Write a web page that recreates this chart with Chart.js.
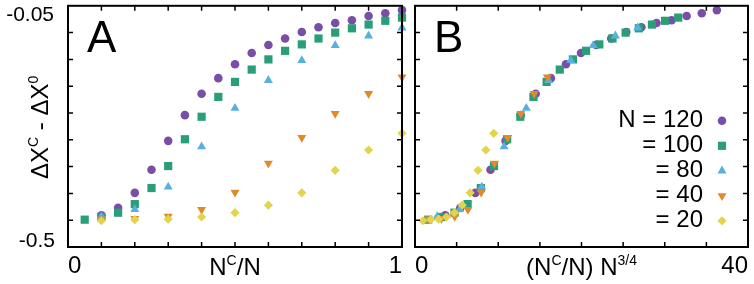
<!DOCTYPE html>
<html lang="en">
<head>
    <meta charset="UTF-8">
    <title>Delta X scaling</title>
    <style>
        body {
            margin: 0;
            background: #ffffff;
            width: 754px;
            height: 284px;
            overflow: hidden;
            position: relative;
        }
        canvas {
            position: absolute;
            top: 0;
        }
        #chartA { left: 0; }
        #chartB { left: 405px; }
    </style>
</head>
<body>
    <canvas id="chartA" width="410" height="284"></canvas>
    <canvas id="chartB" width="349" height="284"></canvas>

    <script src="https://cdn.jsdelivr.net/npm/chart.js"></script>

    <script>
        // N^C/N values for each system size (panel A x)
        const nc120 = [0.10, 0.15, 0.20, 0.25, 0.30, 0.35, 0.40, 0.45, 0.50, 0.55, 0.60, 0.65, 0.70, 0.75, 0.80, 0.85, 0.90, 0.95, 1.00];
        const nc100 = [0.05, 0.10, 0.15, 0.20, 0.25, 0.30, 0.35, 0.40, 0.45, 0.50, 0.55, 0.60, 0.65, 0.70, 0.75, 0.80, 0.85, 0.90, 0.95, 1.00];
        const nc80 = [0.1, 0.2, 0.3, 0.4, 0.5, 0.6, 0.7, 0.8, 0.9, 1.0];
        const nc40 = [0.1, 0.2, 0.3, 0.4, 0.5, 0.6, 0.7, 0.8, 0.9, 1.0];
        const nc20 = [0.1, 0.2, 0.3, 0.4, 0.5, 0.6, 0.7, 0.8, 0.9, 1.0];

        // (N^C/N) N^3/4 values (panel B x)
        const sc120 = [3.63, 5.44, 7.25, 9.07, 10.88, 12.69, 14.50, 16.32, 18.13, 19.94, 21.76, 23.57, 25.38, 27.19, 29.01, 30.82, 32.63, 34.45, 36.26];
        const sc100 = [1.58, 3.16, 4.74, 6.32, 7.91, 9.49, 11.07, 12.65, 14.23, 15.81, 17.39, 18.97, 20.55, 22.14, 23.72, 25.30, 26.88, 28.46, 30.04, 31.62];
        const sc80 = [2.67, 5.35, 8.02, 10.70, 13.37, 16.05, 18.72, 21.40, 24.07, 26.75];
        const sc40 = [1.59, 3.18, 4.77, 6.36, 7.95, 9.54, 11.13, 12.72, 14.31, 15.91];
        const sc20 = [0.95, 1.89, 2.84, 3.78, 4.73, 5.67, 6.62, 7.57, 8.51, 9.46];

        // Delta X^C - Delta X^0 (same in both panels)
        const dx120 = [-0.441, -0.427, -0.399, -0.356, -0.302, -0.254, -0.214, -0.185, -0.159, -0.138, -0.123, -0.111, -0.099, -0.090, -0.082, -0.077, -0.069, -0.064, -0.058];
        const dx100 = [-0.449, -0.444, -0.436, -0.420, -0.390, -0.349, -0.299, -0.257, -0.220, -0.192, -0.169, -0.150, -0.134, -0.122, -0.111, -0.100, -0.092, -0.085, -0.078, -0.072];
        const dx80 = [-0.443, -0.430, -0.388, -0.313, -0.241, -0.189, -0.152, -0.124, -0.106, -0.091];
        const dx40 = [-0.448, -0.447, -0.443, -0.430, -0.398, -0.344, -0.296, -0.251, -0.214, -0.183];
        const dx20 = [-0.451, -0.449, -0.448, -0.444, -0.436, -0.422, -0.399, -0.357, -0.319, -0.288];

        const legendLabels = ['N = 120', '= 100', '= 80', '= 40', '= 20'];
        const xTickLabelsA = ['0', '1'];
        const xTickLabelsB = ['0', '40'];
        const yTickLabels = ['-0.05', '-0.5'];

        const FONT = "'Liberation Sans', Arial, Helvetica, sans-serif";

        const styles = [
            { color: '#7a4ea6', pointStyle: 'circle', radius: 4.3, rotation: 0 },
            { color: '#2a9e78', pointStyle: 'rect', radius: 5.8, rotation: 0 },
            { color: '#56b0e0', pointStyle: 'triangle', radius: 5.2, rotation: 0 },
            { color: '#e08a2c', pointStyle: 'triangle', radius: 5.2, rotation: 180 },
            { color: '#e3d44c', pointStyle: 'rectRot', radius: 4.6, rotation: 0 }
        ];

        function toPoints(xs, ys) {
            return xs.map((x, i) => ({ x: x, y: ys[i] }));
        }

        function makeSets(xLists) {
            const yLists = [dx120, dx100, dx80, dx40, dx20];
            return xLists.map((xs, i) => ({
                label: legendLabels[i],
                data: toPoints(xs, yLists[i]),
                backgroundColor: styles[i].color,
                borderColor: styles[i].color,
                pointStyle: styles[i].pointStyle,
                pointRadius: styles[i].radius,
                pointRotation: styles[i].rotation,
                pointBorderWidth: 0,
                showLine: false,
                clip: false,
                order: 5 - i // smaller N drawn on top
            }));
        }

        // text with superscripts: parts = [[text, isSup], ...]
        function richWidth(ctx, parts, size) {
            let w = 0;
            parts.forEach(p => {
                ctx.font = (p[1] ? Math.round(size * 0.6) : size) + 'px ' + FONT;
                w += ctx.measureText(p[0]).width;
            });
            return w;
        }
        function drawRich(ctx, parts, x, y, size) {
            let cx = x - richWidth(ctx, parts, size) / 2;
            ctx.textAlign = 'left';
            ctx.textBaseline = 'alphabetic';
            parts.forEach(p => {
                const s = p[1] ? Math.round(size * 0.6) : size;
                ctx.font = s + 'px ' + FONT;
                ctx.fillText(p[0], cx, p[1] ? y - size * 0.4 : y);
                cx += ctx.measureText(p[0]).width;
            });
        }

        const framePlugin = {
            id: 'frame',
            afterDatasetsDraw(chart) {
                const cfg = chart.options.plugins.frame;
                const ctx = chart.ctx;
                const a = chart.chartArea;
                const xs = chart.scales.x, ys = chart.scales.y;
                ctx.save();
                ctx.strokeStyle = '#000';
                ctx.fillStyle = '#000';

                // inward ticks on all four sides
                ctx.lineWidth = 1.5;
                ctx.beginPath();
                const nx = Math.round((xs.max - xs.min) / cfg.xStep);
                for (let i = 1; i < nx; i++) {
                    const px = xs.getPixelForValue(xs.min + i * cfg.xStep);
                    ctx.moveTo(px, a.bottom); ctx.lineTo(px, a.bottom - 5);
                    ctx.moveTo(px, a.top); ctx.lineTo(px, a.top + 5);
                }
                const ny = Math.round((ys.max - ys.min) / cfg.yStep);
                for (let i = 1; i < ny; i++) {
                    const py = ys.getPixelForValue(ys.min + i * cfg.yStep);
                    ctx.moveTo(a.left, py); ctx.lineTo(a.left + 5, py);
                    ctx.moveTo(a.right, py); ctx.lineTo(a.right - 5, py);
                }
                ctx.stroke();

                // frame
                ctx.lineWidth = 2;
                ctx.strokeRect(a.left, a.top, a.right - a.left, a.bottom - a.top);

                // x tick labels at the ends
                ctx.font = '24px ' + FONT;
                ctx.textBaseline = 'middle';
                ctx.textAlign = 'left';
                ctx.fillText(cfg.xLabels[0], xs.getPixelForValue(xs.min), a.bottom + 19);
                ctx.textAlign = 'right';
                ctx.fillText(cfg.xLabels[1], xs.getPixelForValue(xs.max), a.bottom + 19);

                // x title
                drawRich(ctx, cfg.xTitle, (a.left + a.right) / 2, a.bottom + 28, 24);

                // y tick labels and title (panel A only)
                if (cfg.yLabels) {
                    ctx.font = '21px ' + FONT;
                    ctx.textAlign = 'right';
                    ctx.textBaseline = 'middle';
                    ctx.fillText(cfg.yLabels[0], a.left - 14, ys.getPixelForValue(ys.max) + 9);
                    ctx.fillText(cfg.yLabels[1], a.left - 13, ys.getPixelForValue(ys.min) - 6);

                    ctx.save();
                    ctx.translate(a.left - 20, (a.top + a.bottom) / 2 + 1);
                    ctx.rotate(-Math.PI / 2);
                    drawRich(ctx, [['\u0394X', false], ['C', true], [' - \u0394X', false], ['0', true]], 0, 0, 24);
                    ctx.restore();
                }

                // panel letter
                ctx.font = '44px ' + FONT;
                ctx.textAlign = 'left';
                ctx.textBaseline = 'alphabetic';
                ctx.fillText(cfg.letter, a.left + 19, a.top + 46);

                // legend (panel B only)
                if (cfg.legend) {
                    chart.data.datasets.forEach((ds, i) => {
                        const ly = a.top + 115 + i * 25;
                        ctx.font = '24px ' + FONT;
                        ctx.textAlign = 'right';
                        ctx.textBaseline = 'middle';
                        ctx.fillStyle = '#000';
                        ctx.fillText(ds.label, a.left + 288, ly);
                        ctx.fillStyle = ds.backgroundColor;
                        Chart.helpers.drawPoint(ctx, {
                            pointStyle: ds.pointStyle,
                            rotation: ds.pointRotation,
                            radius: ds.pointRadius,
                            borderWidth: 0
                        }, a.left + 307, ly);
                    });
                }
                ctx.restore();
            }
        };

        function baseOptions(padding, xMax, frameCfg) {
            return {
                responsive: false,
                animation: false,
                devicePixelRatio: 1,
                layout: { padding: padding },
                plugins: {
                    legend: { display: false },
                    tooltip: { enabled: false },
                    frame: frameCfg
                },
                scales: {
                    x: { type: 'linear', min: 0, max: xMax, display: false },
                    y: { type: 'linear', min: -0.5, max: -0.05, display: false }
                }
            };
        }

        new Chart(document.getElementById('chartA'), {
            type: 'scatter',
            data: { datasets: makeSets([nc120, nc100, nc80, nc40, nc20]) },
            options: baseOptions({ left: 68, right: 8, top: 4, bottom: 37 }, 1, {
                xStep: 0.1, yStep: 0.05,
                xLabels: xTickLabelsA, yLabels: yTickLabels,
                xTitle: [['N', false], ['C', true], ['/N', false]],
                letter: 'A', legend: false
            }),
            plugins: [framePlugin]
        });

        new Chart(document.getElementById('chartB'), {
            type: 'scatter',
            data: { datasets: makeSets([sc120, sc100, sc80, sc40, sc20]) },
            options: baseOptions({ left: 10, right: 6, top: 4, bottom: 37 }, 40, {
                xStep: 5, yStep: 0.05,
                xLabels: xTickLabelsB, yLabels: null,
                xTitle: [['(N', false], ['C', true], ['/N) N', false], ['3/4', true]],
                letter: 'B', legend: true
            }),
            plugins: [framePlugin]
        });
    </script>
</body>
</html>
